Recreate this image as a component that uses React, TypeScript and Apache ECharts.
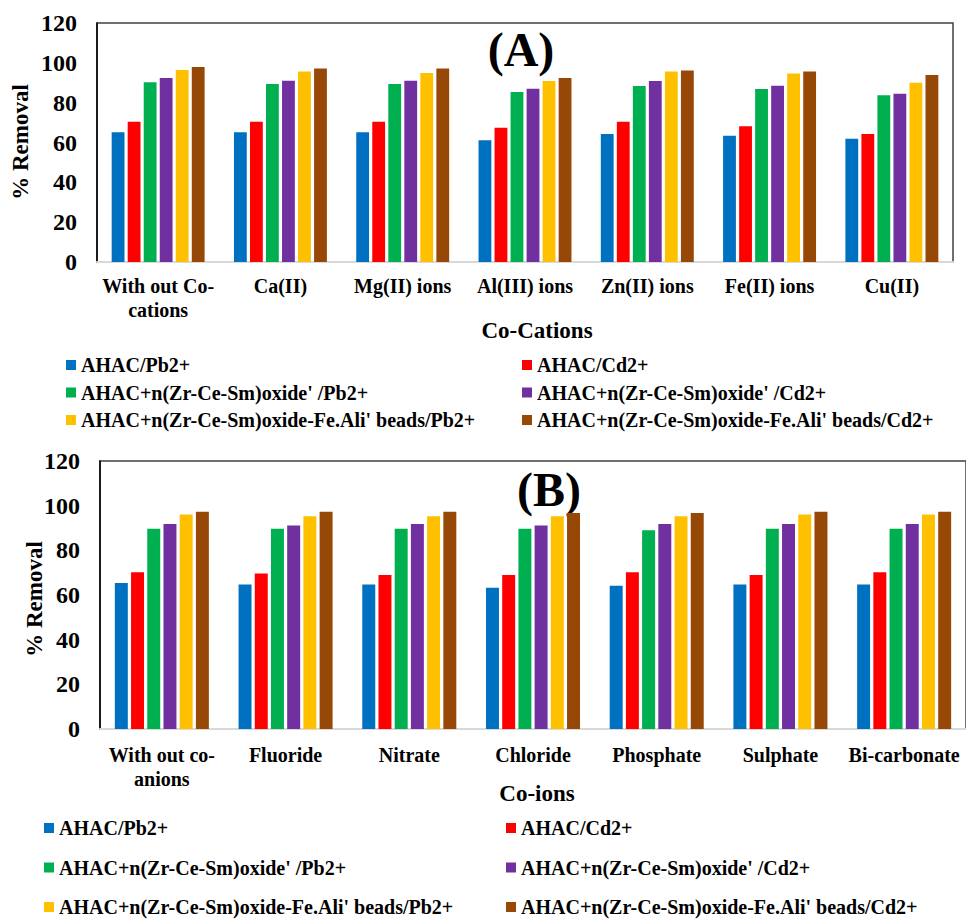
import React, { useEffect, useRef } from "react";
import * as echarts from "echarts";

const categoriesA = ["With out Co-cations", "Ca(II)", "Mg(II) ions", "Al(III) ions", "Zn(II) ions", "Fe(II) ions", "Cu(II)"];
const categoriesB = ["With out co-anions", "Fluoride", "Nitrate", "Chloride", "Phosphate", "Sulphate", "Bi-carbonate"];
const seriesNames = [
  "AHAC/Pb2+",
  "AHAC/Cd2+",
  "AHAC+n(Zr-Ce-Sm)oxide' /Pb2+",
  "AHAC+n(Zr-Ce-Sm)oxide' /Cd2+",
  "AHAC+n(Zr-Ce-Sm)oxide-Fe.Ali' beads/Pb2+",
  "AHAC+n(Zr-Ce-Sm)oxide-Fe.Ali' beads/Cd2+",
];
const seriesColors = ["#0070C0", "#FF0000", "#00B050", "#7030A0", "#FFC000", "#974706"];
const yTicks = [0, 20, 40, 60, 80, 100, 120];

// Panel A: co-cations
const pbAhacA = [65.1, 65.1, 65.1, 61.1, 64.3, 63.4, 61.9];
const cdAhacA = [70.4, 70.4, 70.4, 67.4, 70.4, 68.1, 64.3];
const pbOxideA = [90.2, 89.4, 89.4, 85.4, 88.4, 86.9, 83.7];
const cdOxideA = [92.4, 91.0, 91.0, 87.0, 90.9, 88.5, 84.5];
const pbBeadsA = [96.4, 95.6, 94.9, 90.9, 95.6, 94.7, 90.0];
const cdBeadsA = [97.9, 97.1, 97.1, 92.4, 96.2, 95.6, 93.9];

// Panel B: co-anions
const pbAhacB = [65.4, 64.7, 64.7, 63.3, 64.1, 64.7, 64.7];
const cdAhacB = [70.2, 69.6, 68.9, 68.9, 70.2, 68.9, 70.2];
const pbOxideB = [89.7, 89.7, 89.7, 89.7, 89.0, 89.7, 89.7];
const cdOxideB = [91.8, 91.1, 91.8, 91.1, 91.8, 91.8, 91.8];
const pbBeadsB = [96.0, 95.3, 95.3, 95.3, 95.3, 96.0, 96.0];
const cdBeadsB = [97.3, 97.3, 97.3, 96.7, 96.7, 97.3, 97.3];

const dataA = [pbAhacA, cdAhacA, pbOxideA, cdOxideA, pbBeadsA, cdBeadsA];
const dataB = [pbAhacB, cdAhacB, pbOxideB, cdOxideB, pbBeadsB, cdBeadsB];

const FONT = "Liberation Serif";

export default function App() {
  const ref = useRef<HTMLDivElement>(null);

  useEffect(() => {
    if (!ref.current) return;
    const chart = echarts.init(ref.current, null, { renderer: "svg" });

    const xAxisCommon = (gridIndex: number, data: string[], margin: number) => ({
      type: "category",
      gridIndex,
      data,
      axisTick: { show: false },
      axisLine: { show: true, lineStyle: { color: "#d9d9d9", width: 2 } },
      axisLabel: {
        interval: 0,
        margin,
        color: "#000",
        fontFamily: FONT,
        fontWeight: "bold",
        fontSize: 20,
        lineHeight: 24,
        formatter: (v: string) => v.replace(/(Co-|co-)/, "$1\n"),
      },
    });

    const yAxisCommon = (gridIndex: number) => ({
      type: "value",
      gridIndex,
      min: yTicks[0],
      max: yTicks[yTicks.length - 1],
      interval: 20,
      axisTick: { show: false },
      splitLine: { show: false },
      axisLine: { show: true, lineStyle: { color: "#000", width: 1.5 } },
      axisLabel: {
        margin: 20,
        color: "#000",
        fontFamily: FONT,
        fontWeight: "bold",
        fontSize: 24,
      },
    });

    const barSeries = (data: number[][], idx: number) =>
      data.map((vals, i) => ({
        type: "bar",
        name: seriesNames[i],
        xAxisIndex: idx,
        yAxisIndex: idx,
        data: vals,
        barGap: "25%",
        barCategoryGap: "24%",
        itemStyle: { color: seriesColors[i] },
      }));

    const legendCommon = {
      orient: "vertical",
      icon: "rect",
      itemWidth: 10,
      itemHeight: 10,
      padding: 0,
      selectedMode: false,
      textStyle: {
        color: "#000",
        fontFamily: FONT,
        fontWeight: "bold",
        fontSize: 20,
        lineHeight: 20,
      },
    };

    const textStyle = (size: number) => ({
      fill: "#000",
      fontFamily: FONT,
      fontWeight: "bold",
      fontSize: size,
      textAlign: "center",
      textVerticalAlign: "middle",
    });

    chart.setOption({
      animation: false,
      backgroundColor: "#fff",
      textStyle: { fontFamily: FONT, fontWeight: "bold", color: "#000" },
      grid: [
        { left: 97, top: 23, width: 856, height: 239, show: true, borderColor: "#404040", borderWidth: 1.5, backgroundColor: "transparent" },
        { left: 100, top: 461, width: 866, height: 268, show: true, borderColor: "#404040", borderWidth: 1.5, backgroundColor: "transparent" },
      ],
      xAxis: [xAxisCommon(0, categoriesA, 12), xAxisCommon(1, categoriesB, 14)],
      yAxis: [yAxisCommon(0), yAxisCommon(1)],
      legend: [
        { ...legendCommon, left: 66, top: 355, itemGap: 7.5, data: [seriesNames[0], seriesNames[2], seriesNames[4]] },
        { ...legendCommon, left: 522, top: 355, itemGap: 7.5, data: [seriesNames[1], seriesNames[3], seriesNames[5]] },
        { ...legendCommon, left: 44, top: 818, itemGap: 19.5, data: [seriesNames[0], seriesNames[2], seriesNames[4]] },
        { ...legendCommon, left: 506, top: 818, itemGap: 19.5, data: [seriesNames[1], seriesNames[3], seriesNames[5]] },
      ],
      graphic: [
        { type: "text", x: 521, y: 49, style: { text: "(A)", ...textStyle(48) } },
        { type: "text", x: 549, y: 489, style: { text: "(B)", ...textStyle(48) } },
        { type: "text", x: 537, y: 330, style: { text: "Co-Cations", ...textStyle(23) } },
        { type: "text", x: 537, y: 793, style: { text: "Co-ions", ...textStyle(23) } },
        { type: "text", x: 20, y: 142, rotation: Math.PI / 2, style: { text: "% Removal", ...textStyle(23) } },
        { type: "text", x: 34, y: 599, rotation: Math.PI / 2, style: { text: "% Removal", ...textStyle(23) } },
      ],
      series: [...barSeries(dataA, 0), ...barSeries(dataB, 1)],
    });

    return () => chart.dispose();
  }, []);

  return (
    <div
      ref={ref}
      style={{ position: "absolute", left: 0, top: 0, width: 966, height: 919 }}
    />
  );
}
